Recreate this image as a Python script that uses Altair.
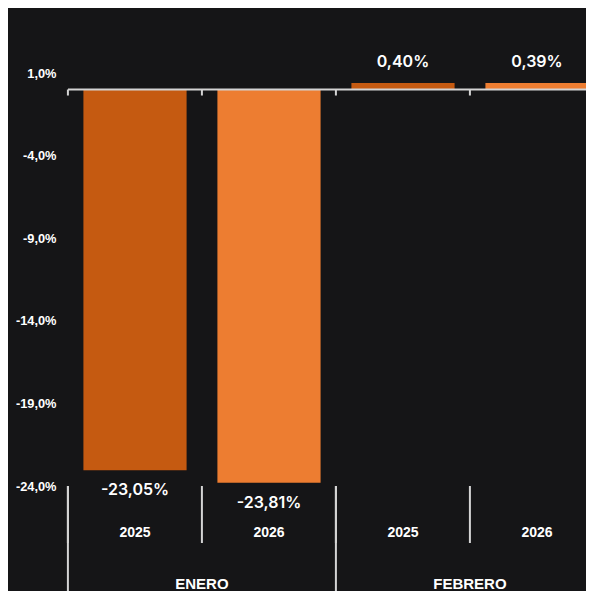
import altair as alt
import pandas as pd

months = ["ENERO", "ENERO", "FEBRERO", "FEBRERO"]
years = ["2025", "2026", "2025", "2026"]
values = [-23.05, -23.81, 0.40, 0.39]
y_ticks = [1, -4, -9, -14, -19, -24]
colors = {"2025": "#c55a11", "2026": "#ed7d31"}

BG = "#151517"
LINE = "#d4d4d4"

cats = [f"{m} {y}" for m, y in zip(months, years)]
df = pd.DataFrame({
    "cat": cats,
    "month": months,
    "year": years,
    "value": values,
    "label": [f"{v:.2f}".replace(".", ",") + "%" for v in values],
})
df["pos"] = df["value"] >= 0
df["month_start"] = [i == 0 or months[i] != months[i - 1] for i in range(len(months))]
df["month_second"] = [i > 0 and months[i] == months[i - 1] for i in range(len(months))]

xscale = alt.Scale(domain=cats, range=[0, 536], paddingInner=0.23, paddingOuter=0.115)
yscale = alt.Scale(domain=[-24, 1], nice=False, zero=False)

base = alt.Chart(df)
X = alt.X("cat:N", scale=xscale, axis=None, sort=cats)
Xb = alt.X("cat:N", scale=xscale, axis=None, sort=cats, bandPosition=0)

bars = base.mark_bar().encode(
    x=X,
    y=alt.Y("value:Q", scale=yscale,
            axis=alt.Axis(values=y_ticks, domain=False, ticks=False, grid=False,
                          labelPadding=12, labelColor="#ffffff", labelFont="Liberation Sans",
                          labelFontWeight="bold", labelFontSize=12.8,
                          labelExpr="replace(replace(format(datum.value, '.1f'), '.', ','), '\u2212', '-') + '%'"),
            title=None),
    color=alt.Color("year:N", scale=alt.Scale(domain=list(colors), range=list(colors.values())), legend=None),
)

zero = base.transform_filter("datum.cat == 'ENERO 2025'").mark_rule(
    color=LINE, strokeWidth=2).encode(y=alt.datum(0), x=alt.value(0), x2=alt.value(540))

zero_ticks = base.mark_rule(color=LINE, strokeWidth=2, xOffset=-15.5, y2Offset=6).encode(
    x=Xb, y=alt.datum(0), y2=alt.datum(0))

year_lines = base.mark_rule(color=LINE, strokeWidth=2, xOffset=-15.5, y2Offset=57).encode(
    x=Xb, y=alt.datum(-24), y2=alt.datum(-24))

month_lines = base.transform_filter("datum.month_start").mark_rule(
    color=LINE, strokeWidth=2, xOffset=-15.5, y2Offset=110).encode(
    x=Xb, y=alt.datum(-24), y2=alt.datum(-24))

neg_labels = base.transform_filter("!datum.pos").mark_text(
    baseline="alphabetic", dy=25, color="#ffffff", font="Inter", fontSize=16, fontWeight=600).encode(
    x=X, y=alt.Y("value:Q", scale=yscale), text="label:N")

pos_labels = base.transform_filter("datum.pos").mark_text(
    baseline="alphabetic", dy=-16, color="#ffffff", font="Inter", fontSize=16, fontWeight=600).encode(
    x=X, y=alt.Y("value:Q", scale=yscale), text="label:N")

year_text = base.mark_text(
    baseline="alphabetic", dy=51, color="#ffffff", font="Liberation Sans", fontSize=14, fontWeight="bold").encode(
    x=X, y=alt.datum(-24), text="year:N")

month_text = base.transform_filter("datum.month_second").mark_text(
    baseline="alphabetic", dy=103, dx=-15.5, color="#ffffff", font="Liberation Sans", fontSize=15, fontWeight="bold").encode(
    x=Xb, y=alt.datum(-24), text="month:N")

chart = alt.layer(
    bars, zero, zero_ticks, year_lines, month_lines, neg_labels, pos_labels, year_text, month_text
).properties(
    width=518, height=413,
    autosize=alt.AutoSizeParams(type="none"),
    padding={"left": 60, "top": 65, "right": 0, "bottom": 105},
    background=BG,
).configure_view(stroke=None)

chart.save("out.html", embed_options={"renderer": "svg", "actions": False})
